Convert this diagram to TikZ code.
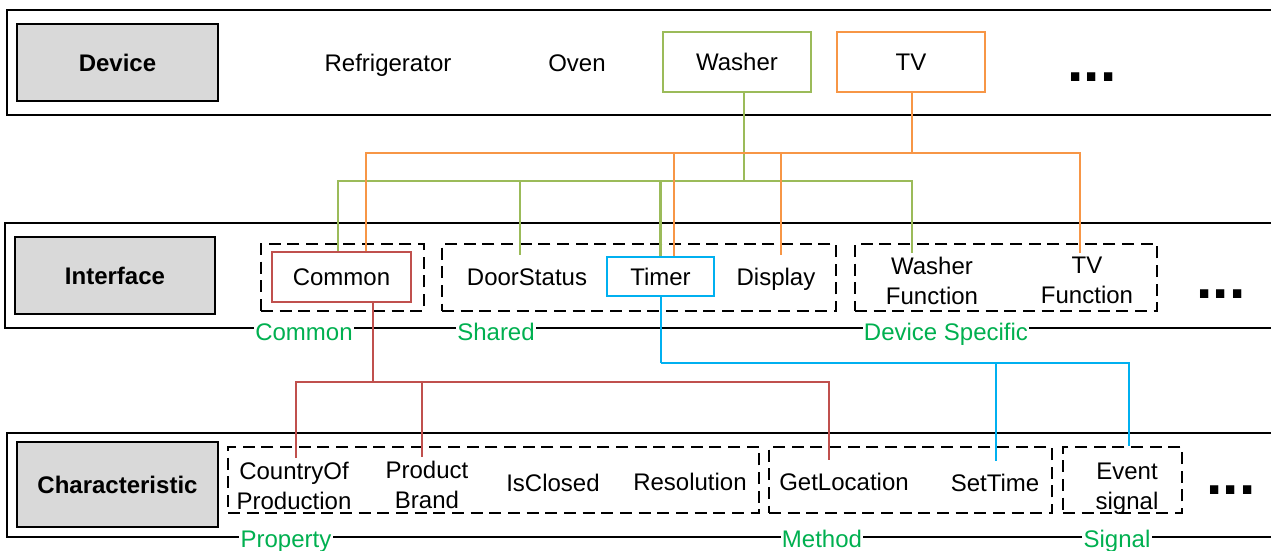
\documentclass[tikz,border=0pt]{standalone}
\usepackage{fontspec}
\setmainfont{Liberation Sans}
\definecolor{washergreen}{RGB}{155,187,89}
\definecolor{tvorange}{RGB}{247,150,70}
\definecolor{commonred}{RGB}{192,80,77}
\definecolor{timerblue}{RGB}{0,176,240}
\definecolor{groupgreen}{RGB}{0,176,80}
\definecolor{layergray}{RGB}{217,217,217}
\begin{document}
\begin{tikzpicture}[x=0.75pt,y=0.75pt,yscale=-1,xscale=1,
  font=\fontsize{18}{22.5}\selectfont,
  layer/.style={draw, line width=1.5pt},
  layername/.style={draw, line width=1.2pt, fill=layergray, font=\fontsize{18}{22.5}\selectfont\bfseries},
  group/.style={draw, line width=1.2pt, dash pattern=on 9pt off 5pt},
  typebox/.style={draw, line width=1.7pt},
  item/.style={inner sep=0pt, outer ysep=9.75pt},
  itemtwo/.style={inner sep=0pt, outer ysep=3pt, align=center},
  grouplabel/.style={text=groupgreen, fill=white, inner xsep=1pt, inner ysep=0pt},
  more/.style={font=\fontsize{44}{44}\selectfont\bfseries, inner sep=0pt},
  link/.style={line width=1.9pt}]
\useasboundingbox (0,0) rectangle (1271,550);

%Shape: Rectangle
\draw [layer] (7,10) rectangle (1290,115) ;
%Shape: Rectangle
\draw [layer] (5,223) rectangle (1290,328) ;
%Shape: Rectangle
\draw [layer] (7,433) rectangle (1290,537) ;

% Text Node
\draw (117.5,62.5) node [layername, minimum width=150.75pt, minimum height=57.75pt] (device) {Device};
% Text Node
\draw (115,275.5) node [layername, minimum width=150pt, minimum height=57.75pt] (interface) {Interface};
% Text Node
\draw (117.5,484.5) node [layername, minimum width=150.75pt, minimum height=63.75pt] (characteristic) {Characteristic};

%Shape: Rectangle
\draw (342.5,277.5) node [group, minimum width=122.25pt, minimum height=50.25pt] (gcommon) {};
\draw (639,277.5) node [group, minimum width=295.5pt, minimum height=50.25pt] (gshared) {};
\draw (1006,277.5) node [group, minimum width=226.5pt, minimum height=50.25pt] (gspecific) {};
\draw (493.5,480) node [group, minimum width=398.25pt, minimum height=49.5pt] (gproperty) {};
\draw (910.5,480) node [group, minimum width=212.25pt, minimum height=49.5pt] (gmethod) {};
\draw (1122.5,480) node [group, minimum width=89.25pt, minimum height=49.5pt] (gsignal) {};

% Text Node
\draw (388,71) node [item, anchor=base] (refrigerator) {Refrigerator};
% Text Node
\draw (577,71) node [item, anchor=base] (oven) {Oven};
% Text Node
\draw (737,62) node [typebox, draw=washergreen, minimum width=111pt, minimum height=45pt] (washer) {Washer};
% Text Node
\draw (911,62) node [typebox, draw=tvorange, minimum width=111pt, minimum height=45pt] (tv) {TV};
% Text Node
\draw (1092,81) node [more, anchor=base] (devicemore) {...};

% Text Node
\draw (341.5,277) node [typebox, draw=commonred, minimum width=104.25pt, minimum height=37.5pt] (common) {Common};
% Text Node
\draw (527,285) node [item, anchor=base] (doorstatus) {DoorStatus};
% Text Node
\draw (660.5,276.5) node [typebox, draw=timerblue, minimum width=80.25pt, minimum height=29.25pt] (timer) {Timer};
% Text Node
\draw (776,285) node [item, anchor=base] (display) {Display};
% Text Node
\draw (932,253) node [itemtwo, anchor=north] (washerfn) {Washer\\Function};
% Text Node
\draw (1087,253) node [itemtwo, anchor=north] (tvfn) {TV\\Function};
% Text Node
\draw (1221,298) node [more, anchor=base] (interfacemore) {...};

% Text Node
\draw (294,458) node [itemtwo, anchor=north] (countryof) {CountryOf\\Production};
% Text Node
\draw (427,457) node [itemtwo, anchor=north] (product) {Product\\Brand};
% Text Node
\draw (553,491) node [item, anchor=base] (isclosed) {IsClosed};
% Text Node
\draw (690,490) node [item, anchor=base] (resolution) {Resolution};
% Text Node
\draw (844,490) node [item, anchor=base] (getlocation) {GetLocation};
% Text Node
\draw (995,491) node [item, anchor=base] (settime) {SetTime};
% Text Node
\draw (1127,459) node [itemtwo, anchor=north] (event) {Event\\signal};
% Text Node
\draw (1231,494) node [more, anchor=base] (characteristicmore) {...};

% Text Node
\draw (304,340) node [grouplabel, anchor=base] (lcommon) {Common};
\draw (496,340) node [grouplabel, anchor=base] (lshared) {Shared};
\draw (946,340) node [grouplabel, anchor=base] (lspecific) {Device Specific};
\draw (286,547) node [grouplabel, anchor=base] (lproperty) {Property};
\draw (822,547) node [grouplabel, anchor=base] (lmethod) {Method};
\draw (1117,547) node [grouplabel, anchor=base] (lsignal) {Signal};

\coordinate (gbus) at (744,181);
\coordinate (tvbus) at (912,153);
\coordinate (cbus) at (373,382);
\coordinate (tbus) at (661,363);

%Straight Lines
\draw [link, washergreen] (washer.south -| gbus) -- (gbus) ;
\draw [link, washergreen] (gbus) -| ([xshift=-2.6pt]common.north) ;
\draw [link, washergreen] (gbus) -| ([xshift=-5.25pt]doorstatus.north) ;
\draw [link, washergreen] (gbus) -| (timer.north) ;
\draw [link, washergreen] (gbus) -| ([xshift=-15pt]washerfn.north) ;
%Straight Lines
\draw [link, tvorange] (tv.south -| tvbus) -- (tvbus) ;
\draw [link, tvorange] (tvbus) -| ([xshift=18.4pt]common.north) ;
\draw [link, tvorange] (tvbus) -| ([xshift=10.1pt]timer.north) ;
\draw [link, tvorange] (tvbus) -| ([xshift=3.75pt]display.north) ;
\draw [link, tvorange] (tvbus) -| ([xshift=-5.25pt]tvfn.north) ;
%Straight Lines
\draw [link, commonred] (common.south -| cbus) -- (cbus) ;
\draw [link, commonred] (cbus) -| ([xshift=1.5pt]countryof.north) ;
\draw [link, commonred] (cbus) -| ([xshift=-3.75pt]product.north) ;
\draw [link, commonred] (cbus) -| ([xshift=-11.25pt]getlocation.north) ;
%Straight Lines
\draw [link, timerblue] (timer.south -| tbus) -- (tbus) ;
\draw [link, timerblue] (tbus) -| ([xshift=0.75pt]settime.north) ;
\draw [link, timerblue] (tbus) -| ([xshift=4.9pt]gsignal.north) ;

\end{tikzpicture}
\end{document}
